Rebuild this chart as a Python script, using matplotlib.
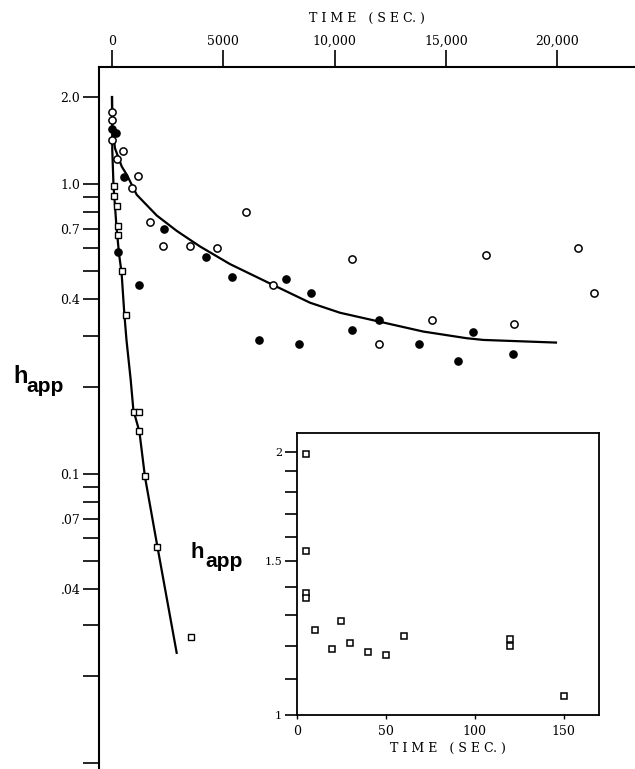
import matplotlib
matplotlib.use('Agg')
import matplotlib.pyplot as plt
from matplotlib.ticker import FixedLocator, NullLocator

# --- main panel: h_app vs time (sec) ---
open_t = [0, 0, 10, 510, 210, 1180, 890, 1710, 2300, 3520, 4730, 6010,
          7220, 10770, 11980, 14390, 16800, 18040, 20920, 21640]
open_h = [1.78, 1.67, 1.42, 1.30, 1.22, 1.07, 0.97, 0.74, 0.61, 0.61, 0.60,
          0.80, 0.45, 0.55, 0.28, 0.34, 0.57, 0.33, 0.60, 0.42]

filled_t = [0, 170, 550, 260, 1230, 2350, 4220, 5380, 6590, 7800, 8390,
            8950, 10790, 12010, 13780, 15520, 16200, 18010]
filled_h = [1.55, 1.50, 1.06, 0.585, 0.45, 0.70, 0.56, 0.48, 0.29, 0.47,
            0.28, 0.42, 0.315, 0.34, 0.28, 0.245, 0.31, 0.26]

square_t = [100, 100, 230, 260, 260, 430, 650, 970, 1230, 1230, 1480,
            2040, 3540]
square_h = [0.99, 0.91, 0.84, 0.72, 0.67, 0.50, 0.355, 0.163, 0.163,
            0.141, 0.098, 0.056, 0.0274]

# drawn curves (traced)
sqfit_t = [0, 13, 67, 200, 315, 430, 550, 650, 840, 960, 1230, 1480,
           2035, 2905]
sqfit_h = [2.0, 1.31, 0.99, 0.715, 0.575, 0.495, 0.36, 0.29, 0.211,
           0.166, 0.140, 0.0977, 0.0563, 0.0241]

circfit_t = [0, 10, 135, 440, 660, 1110, 2010, 2910, 3950, 5300, 6950,
             8890, 10240, 11670, 13980, 15930, 16680, 19940]
circfit_h = [2.0, 1.60, 1.33, 1.15, 1.08, 0.92, 0.78, 0.69, 0.61, 0.53,
             0.46, 0.39, 0.36, 0.34, 0.31, 0.294, 0.29, 0.284]

main_xticks = [0, 5000, 10000, 15000, 20000]
main_xlabels = ['0', '5000', '10,000', '15,000', '20,000']
main_yticks = [2.0, 1.0, 0.9, 0.8, 0.7, 0.6, 0.5, 0.4, 0.3, 0.2,
               0.1, 0.09, 0.08, 0.07, 0.06, 0.05, 0.04, 0.03, 0.02, 0.01]
main_ylabels = ['2.0', '1.0', '', '', '0.7', '', '', '0.4', '', '',
                '0.1', '', '', '.07', '', '', '.04', '', '', '']

# --- inset: first 150 s ---
inset_t = [5.5, 5.5, 5, 5, 10, 25, 20, 30, 40, 50, 60, 120, 120, 150]
inset_h = [1.99, 1.54, 1.38, 1.36, 1.25, 1.28, 1.19, 1.21, 1.18, 1.17,
           1.23, 1.22, 1.20, 1.05]

inset_xticks = [0, 50, 100, 150]
inset_yticks = [1.0, 1.1, 1.2, 1.3, 1.4, 1.5, 1.6, 1.7, 1.8, 1.9, 2.0]
inset_ylabels = ['1', '', '', '', '', '1.5', '', '', '', '', '2']

W, H = 635, 769
SERIF = 'DejaVu Serif'
SANS = 'Liberation Sans'


def fx(px):
    return px / W


def fy(py):
    return 1 - py / H


fig = plt.figure(figsize=(W / 100, H / 100), dpi=100)

ax = fig.add_axes([fx(99), 0, fx(635) - fx(99), fy(67)])
ax.plot(sqfit_t, sqfit_h, 'k-', lw=1.6, zorder=2)
ax.plot(circfit_t, circfit_h, 'k-', lw=1.6, zorder=2)
ax.plot(square_t, square_h, 's', ms=4.8, mfc='white', mec='k', mew=1.0,
        ls='none', zorder=3)
ax.plot(open_t, open_h, 'o', ms=5.2, mfc='white', mec='k', mew=1.1,
        ls='none', zorder=4, clip_on=False)
ax.plot(filled_t, filled_h, 'o', ms=5.2, mfc='k', mec='k', ls='none',
        zorder=4, clip_on=False)

ax.set_xlim(-584, 23490)
ax.set_yscale('log')
ax.set_ylim(0.00957, 2.54)

ax.xaxis.tick_top()
ax.xaxis.set_label_position('top')
ax.set_xticks(main_xticks)
ax.set_xticklabels(main_xlabels, family=SERIF, fontsize=9)
ax.yaxis.set_major_locator(FixedLocator(main_yticks))
ax.yaxis.set_minor_locator(NullLocator())
ax.set_yticklabels(main_ylabels, family=SERIF, fontsize=9)
ax.tick_params(axis='x', direction='out', length=12, width=1.2, pad=2)
ax.tick_params(axis='y', direction='out', length=11.5, width=1.2, pad=2)
ax.set_xlabel('T I M E   ( S E C. )', family=SERIF, fontsize=9, labelpad=9)

for side in ('right', 'bottom'):
    ax.spines[side].set_visible(False)
for side in ('left', 'top'):
    ax.spines[side].set_linewidth(1.5)

fig.text(fx(13), fy(383), 'h', family=SANS, fontweight='bold', fontsize=17,
         va='baseline')
fig.text(fx(26), fy(392), 'app', family=SANS, fontweight='bold',
         fontsize=15, va='baseline')

# inset
ax2 = fig.add_axes([fx(296.7), fy(715), (599.3 - 296.7) / W,
                    (715 - 433.3) / H])
ax2.plot(inset_t, inset_h, 's', ms=5, mfc='white', mec='k', mew=1.1,
         ls='none')
ax2.set_xlim(0, 170)
ax2.set_yscale('log')
ax2.set_ylim(1.0, 2.10)
ax2.yaxis.set_major_locator(FixedLocator(inset_yticks))
ax2.yaxis.set_minor_locator(NullLocator())
ax2.set_yticklabels(inset_ylabels, family=SERIF, fontsize=8)
ax2.set_xticks(inset_xticks)
ax2.set_xticklabels([str(v) for v in inset_xticks], family=SERIF, fontsize=9)
ax2.tick_params(axis='y', direction='out', length=8.5, width=1.2, pad=2)
ax2.tick_params(axis='x', direction='out', length=3, width=1.0, pad=4)
ax2.set_xlabel('T I M E   ( S E C. )', family=SERIF, fontsize=9, labelpad=3)
for sp in ax2.spines.values():
    sp.set_linewidth(1.3)

fig.text(fx(191), fy(558), 'h', family=SANS, fontweight='bold', fontsize=16,
         va='baseline')
fig.text(fx(205), fy(567), 'app', family=SANS, fontweight='bold',
         fontsize=15, va='baseline')

fig.savefig('out.png', dpi=100)
